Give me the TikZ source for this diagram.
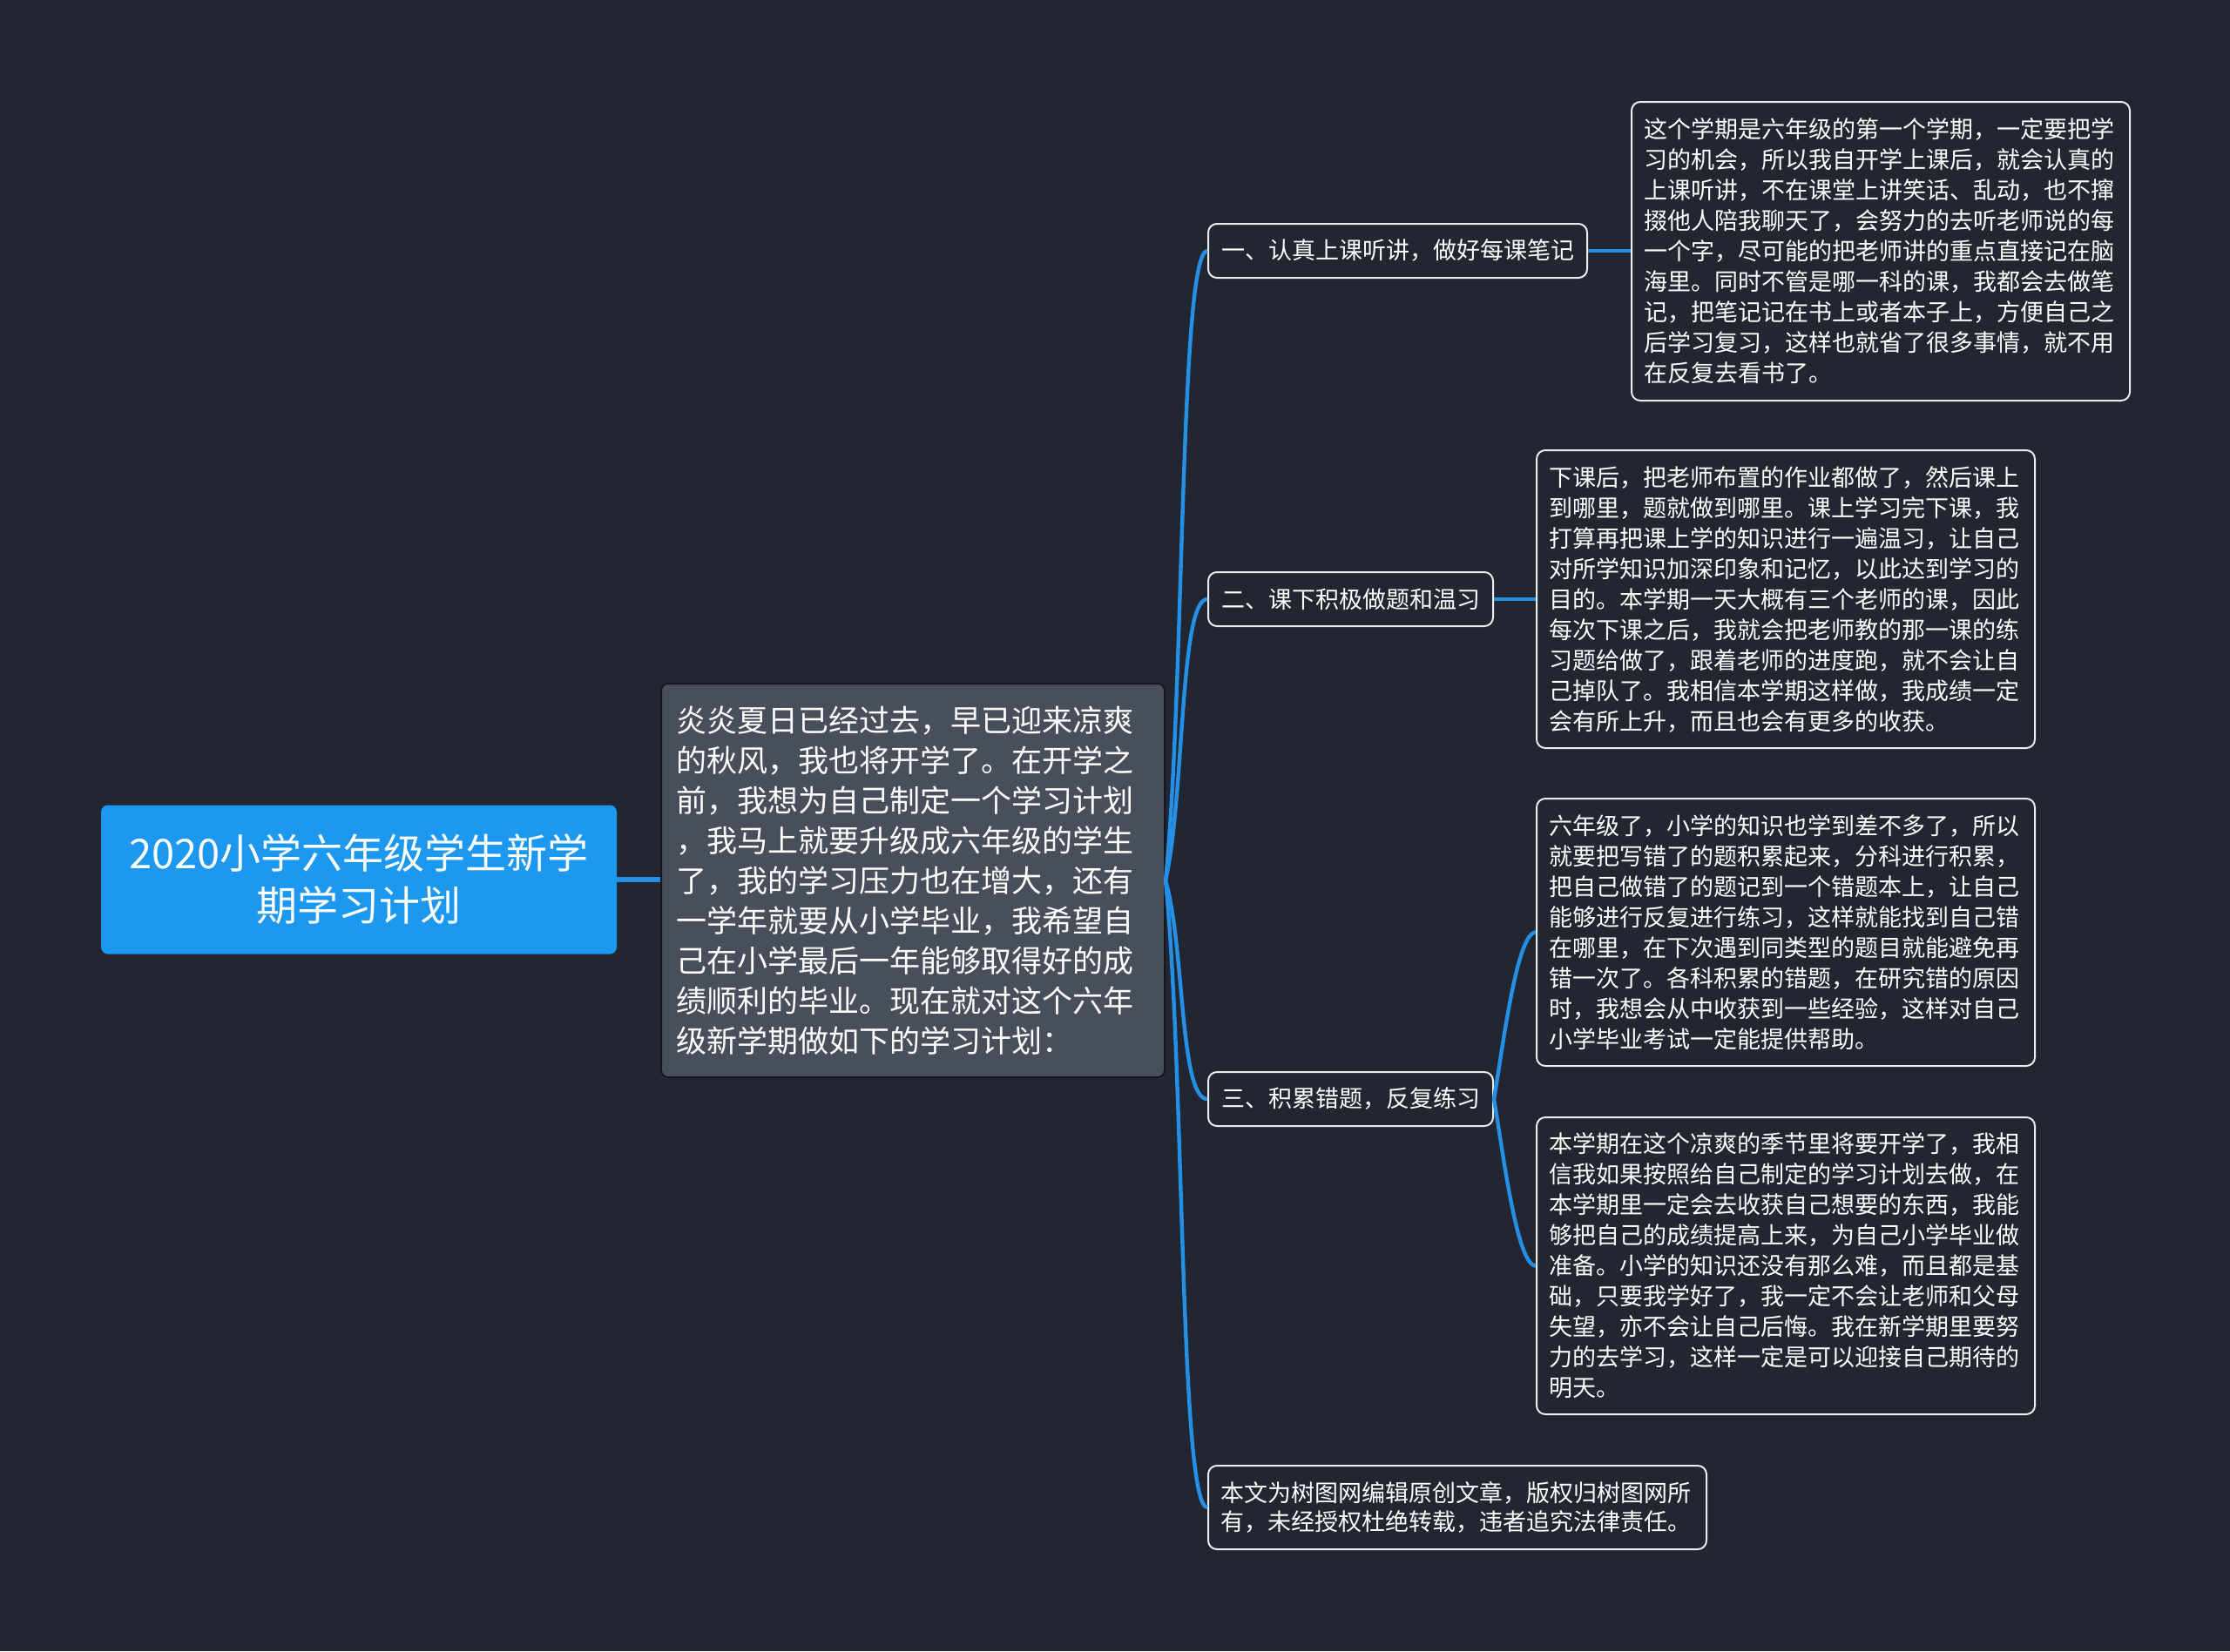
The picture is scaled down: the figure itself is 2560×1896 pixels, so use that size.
\documentclass[tikz,border=0pt]{standalone}
\usepackage{fontspec}
\setmainfont{Noto Sans CJK SC}
\definecolor{Night}{RGB}{34,38,49}
\definecolor{Slate}{RGB}{73,78,91}
\definecolor{Edge}{RGB}{20,23,31}
\definecolor{Sky}{RGB}{28,152,240}
\definecolor{Wire}{RGB}{36,143,228}
\definecolor{Chalk}{RGB}{236,236,236}
\begin{document}
\begin{tikzpicture}[x=0.5pt,y=-0.5pt,
    wire/.style={Wire,line width=2.2pt},
    hub/.style={fill=Sky,rounded corners=4pt,text=white,align=center,
      font=\fontsize{23.5pt}{30pt}\selectfont},
    intro/.style={fill=Slate,draw=Edge,line width=1pt,rounded corners=4pt,text=white,
      text width=272pt,inner xsep=8.5pt,align=left,anchor=north west,
      font=\fontsize{17.5pt}{23pt}\selectfont},
    topic/.style={fill=Night,draw=Chalk,line width=1pt,rounded corners=5pt,text=white,
      inner xsep=7pt,minimum height=31pt,anchor=north west,
      font=\fontsize{13.5pt}{17.5pt}\selectfont},
    leaf/.style={fill=Night,draw=Chalk,line width=1pt,rounded corners=5pt,text=white,
      text width=272pt,inner xsep=7pt,inner ysep=0pt,align=left,anchor=north west,
      font=\fontsize{13.5pt}{17.5pt}\selectfont}]
  \fill[Night] (0,0) rectangle (2560,1896);
  \useasboundingbox (0,0) rectangle (2560,1896);

  \node[hub,minimum width=296pt,minimum height=85.5pt] (root) at (412,1010)
    {2020小学六年级学生新学\\期学习计划};
  \node[intro,minimum height=226pt] (intro) at (758,784)
    {炎炎夏日已经过去，早已迎来凉爽\\
     的秋风，我也将开学了。在开学之\\
     前，我想为自己制定一个学习计划\\
     ，我马上就要升级成六年级的学生\\
     了，我的学习压力也在增大，还有\\
     一学年就要从小学毕业，我希望自\\
     己在小学最后一年能够取得好的成\\
     绩顺利的毕业。现在就对这个六年\\
     级新学期做如下的学习计划：};

  \node[topic,minimum width=217.5pt] (br1) at (1386,256) {一、认真上课听讲，做好每课笔记};
  \node[topic,minimum width=163.5pt] (br2) at (1386,656) {二、课下积极做题和温习};
  \node[topic,minimum width=163.5pt] (br3) at (1386,1230) {三、积累错题，反复练习};
  \node[leaf,minimum height=48pt,font=\fontsize{13.5pt}{16.5pt}\selectfont] (note) at (1386,1682)
    {本文为树图网编辑原创文章，版权归树图网所\\
     有，未经授权杜绝转载，违者追究法律责任。};

  \node[leaf,minimum height=171.5pt] (leaf1) at (1872,116)
    {这个学期是六年级的第一个学期，一定要把学\\
     习的机会，所以我自开学上课后，就会认真的\\
     上课听讲，不在课堂上讲笑话、乱动，也不撺\\
     掇他人陪我聊天了，会努力的去听老师说的每\\
     一个字，尽可能的把老师讲的重点直接记在脑\\
     海里。同时不管是哪一科的课，我都会去做笔\\
     记，把笔记记在书上或者本子上，方便自己之\\
     后学习复习，这样也就省了很多事情，就不用\\
     在反复去看书了。};
  \node[leaf,minimum height=171pt] (leaf2) at (1763,516)
    {下课后，把老师布置的作业都做了，然后课上\\
     到哪里，题就做到哪里。课上学习完下课，我\\
     打算再把课上学的知识进行一遍温习，让自己\\
     对所学知识加深印象和记忆，以此达到学习的\\
     目的。本学期一天大概有三个老师的课，因此\\
     每次下课之后，我就会把老师教的那一课的练\\
     习题给做了，跟着老师的进度跑，就不会让自\\
     己掉队了。我相信本学期这样做，我成绩一定\\
     会有所上升，而且也会有更多的收获。};
  \node[leaf,minimum height=153.5pt] (leaf3a) at (1763,916)
    {六年级了，小学的知识也学到差不多了，所以\\
     就要把写错了的题积累起来，分科进行积累，\\
     把自己做错了的题记到一个错题本上，让自己\\
     能够进行反复进行练习，这样就能找到自己错\\
     在哪里，在下次遇到同类型的题目就能避免再\\
     错一次了。各科积累的错题，在研究错的原因\\
     时，我想会从中收获到一些经验，这样对自己\\
     小学毕业考试一定能提供帮助。};
  \node[leaf,minimum height=170.5pt] (leaf3b) at (1763,1282)
    {本学期在这个凉爽的季节里将要开学了，我相\\
     信我如果按照给自己制定的学习计划去做，在\\
     本学期里一定会去收获自己想要的东西，我能\\
     够把自己的成绩提高上来，为自己小学毕业做\\
     准备。小学的知识还没有那么难，而且都是基\\
     础，只要我学好了，我一定不会让老师和父母\\
     失望，亦不会让自己后悔。我在新学期里要努\\
     力的去学习，这样一定是可以迎接自己期待的\\
     明天。};

  \draw[wire,line width=3pt] (root.east) -- (root.east -| intro.west);
  \foreach \b/\d in {br1/-722,br2/-322,br3/251,note/721}
    \draw[wire] (intro.east) .. controls +(22,0.3*\d) and +(-32,0) .. (\b.west);
  \draw[wire] (br1.east) -- (br1.east -| leaf1.west);
  \draw[wire] (br2.east) -- (br2.east -| leaf2.west);
  \foreach \l/\d in {leaf3a/-191,leaf3b/191}
    \draw[wire] (br3.east) .. controls +(10,0.3*\d) and +(-22,0) .. (\l.west);
\end{tikzpicture}
\end{document}
